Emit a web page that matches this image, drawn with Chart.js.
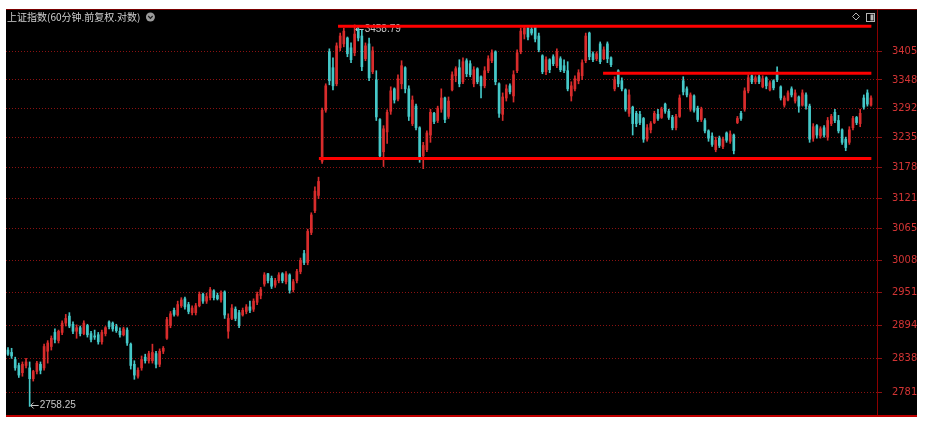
<!DOCTYPE html>
<html lang="zh-CN">
<head>
<meta charset="utf-8">
<title>上证指数 60分钟</title>
<script src="https://cdn.jsdelivr.net/npm/chart.js@4.4.1/dist/chart.umd.min.js"></script>
<style>
  html, body { margin: 0; padding: 0; background: #fff; }
  #wrap { width: 925px; height: 422px; }
</style>
</head>
<body>
<div id="wrap"><canvas id="kline" width="925" height="422"></canvas></div>
<script>
/* ============================================
   上证指数 60分钟 K线 (前复权 / 对数坐标)
   candles = floating bars, levels = line datasets
   ============================================ */

const opens = [
  2852,2848,2836,2826,2814,2826,2822,2804,2816,2828,
  2822,2850,2858,2882,2868,2882,2898,2910,2896,2884,
  2890,2880,2894,2880,2876,2878,2866,2880,2900,2898,
  2892,2884,2878,2886,2862,2828,2808,2822,2840,2834,
  2834,2846,2828,2850,2872,2894,2920,2912,2928,2940,
  2930,2916,2916,2928,2948,2936,2942,2954,2946,2938,
  2952,2884,2906,2922,2916,2912,2918,2926,2922,2934,
  2946,2966,2984,2976,2964,2972,2984,2970,2982,2956,
  2972,2988,3020,3004,3058,3098,3126,3190,3288,3404,
  3372,3340,3412,3420,3432,3412,3402,3450,3436,3390,
  3420,3364,3348,3270,3208,3246,3286,3330,3310,3340,
  3372,3330,3262,3296,3254,3200,3212,3240,3282,3268,
  3290,3312,3276,3328,3356,3372,3344,3386,3380,3340,
  3370,3354,3336,3366,3386,3404,3340,3280,3312,3336,
  3316,3366,3404,3440,3452,3450,3454,3436,3396,3364,
  3388,3394,3376,3390,3376,3366,3316,3330,3346,3356,
  3386,3442,3400,3390,3420,3390,3420,3392,3330,3366,
  3346,3328,3282,3294,3282,3280,3272,3232,3250,3264,
  3280,3274,3300,3286,3274,3254,3276,3346,3330,3290,
  3316,3292,3270,3268,3248,3238,3212,3234,3218,3244,
  3228,3240,3264,3282,3290,3326,3356,3344,3354,3334,
  3352,3328,3346,3364,3334,3298,3308,3330,3306,3314,
  3298,3318,3296,3234,3258,3238,3254,3236,3262,3284,
  3268,3250,3232,3226,3254,3274,3262,3312,3322,3298
];
const highs = [
  2856,2855,2840,2830,2832,2838,2832,2818,2833,2832,
  2862,2868,2876,2888,2886,2902,2913,2916,2900,2895,
  2893,2902,2896,2884,2886,2882,2886,2892,2902,2900,
  2896,2890,2891,2890,2864,2834,2822,2842,2845,2850,
  2862,2850,2854,2858,2908,2918,2924,2936,2942,2943,
  2934,2928,2932,2952,2950,2950,2960,2956,2950,2954,
  2954,2914,2930,2926,2920,2924,2930,2936,2940,2952,
  2960,2986,2985,2980,2976,2986,2986,2988,2984,2974,
  2992,3012,3026,3064,3094,3142,3160,3292,3340,3410,
  3392,3422,3442,3452,3434,3422,3458.79,3455,3448,3422,
  3432,3414,3366,3272,3258,3289,3334,3332,3358,3386,
  3374,3336,3316,3300,3256,3226,3248,3290,3284,3296,
  3330,3314,3314,3364,3374,3388,3392,3390,3386,3374,
  3372,3356,3374,3396,3408,3406,3342,3322,3338,3340,
  3366,3408,3452,3456,3458,3456,3456,3442,3398,3394,
  3390,3398,3410,3394,3388,3384,3344,3356,3368,3388,
  3442,3444,3404,3404,3424,3414,3424,3394,3354,3368,
  3352,3330,3328,3296,3286,3286,3274,3260,3266,3286,
  3290,3294,3302,3290,3278,3280,3318,3354,3334,3322,
  3318,3296,3294,3272,3250,3244,3236,3238,3236,3246,
  3248,3242,3276,3286,3332,3358,3358,3356,3358,3356,
  3354,3346,3348,3374,3336,3316,3326,3334,3328,3316,
  3328,3322,3300,3262,3260,3256,3258,3274,3280,3290,
  3278,3252,3236,3256,3276,3276,3290,3318,3328,3316
];
const lows = [
  2843,2838,2818,2806,2808,2822,2758.25,2800,2812,2812,
  2818,2830,2852,2864,2864,2878,2893,2890,2880,2872,
  2876,2878,2874,2866,2870,2862,2862,2876,2888,2884,
  2882,2874,2876,2860,2820,2803,2805,2818,2830,2830,
  2830,2822,2824,2846,2870,2890,2910,2910,2925,2922,
  2914,2912,2912,2926,2932,2932,2938,2938,2938,2934,
  2906,2872,2904,2902,2890,2910,2914,2916,2918,2930,
  2940,2962,2968,2958,2960,2968,2968,2966,2950,2952,
  2968,2984,3000,3000,3054,3094,3120,3186,3284,3338,
  3328,3336,3406,3414,3394,3382,3396,3426,3366,3386,
  3346,3360,3268,3196,3180,3224,3280,3302,3306,3330,
  3322,3268,3258,3250,3188,3176,3208,3226,3262,3264,
  3284,3264,3272,3326,3344,3334,3340,3354,3354,3334,
  3340,3312,3332,3362,3382,3338,3274,3268,3306,3320,
  3304,3362,3400,3430,3428,3438,3424,3404,3360,3358,
  3362,3376,3372,3364,3362,3326,3306,3326,3340,3348,
  3382,3388,3384,3386,3380,3388,3382,3374,3326,3334,
  3326,3286,3276,3240,3256,3260,3226,3228,3244,3262,
  3268,3272,3282,3270,3250,3250,3274,3318,3314,3286,
  3284,3266,3266,3244,3228,3218,3208,3216,3214,3226,
  3224,3204,3262,3268,3286,3322,3340,3340,3340,3332,
  3330,3326,3328,3344,3308,3294,3306,3314,3302,3284,
  3296,3290,3226,3228,3234,3234,3236,3230,3258,3264,
  3244,3222,3210,3222,3250,3260,3256,3290,3296,3296
];
const closes = [
  2845,2842,2822,2810,2828,2832,2804,2816,2830,2818,
  2858,2864,2872,2870,2884,2898,2906,2893,2884,2890,
  2880,2898,2878,2870,2874,2866,2882,2890,2892,2888,
  2885,2878,2888,2864,2826,2810,2818,2836,2834,2846,
  2848,2828,2850,2855,2904,2914,2913,2930,2938,2926,
  2918,2924,2928,2948,2936,2944,2956,2942,2940,2950,
  2912,2906,2924,2906,2894,2920,2926,2920,2936,2948,
  2956,2982,2972,2962,2972,2982,2972,2984,2955,2970,
  2988,3008,3004,3060,3090,3134,3152,3288,3336,3346,
  3336,3416,3436,3446,3400,3388,3440,3432,3374,3416,
  3352,3406,3275,3200,3252,3284,3326,3308,3350,3376,
  3330,3276,3308,3254,3194,3220,3244,3284,3266,3292,
  3312,3270,3306,3358,3370,3340,3384,3360,3358,3368,
  3344,3336,3366,3390,3402,3344,3282,3314,3330,3324,
  3358,3402,3446,3452,3434,3442,3430,3408,3364,3388,
  3368,3380,3404,3368,3366,3330,3336,3350,3362,3382,
  3436,3394,3388,3400,3384,3408,3390,3378,3348,3340,
  3330,3290,3318,3262,3262,3264,3232,3254,3262,3282,
  3272,3290,3286,3274,3254,3276,3312,3324,3318,3318,
  3288,3270,3290,3248,3234,3222,3230,3220,3232,3230,
  3242,3210,3272,3272,3326,3352,3344,3352,3344,3350,
  3336,3342,3332,3348,3312,3312,3322,3318,3322,3296,
  3322,3296,3232,3256,3240,3252,3240,3268,3276,3268,
  3248,3226,3216,3250,3272,3264,3282,3294,3300,3312
];

// right axis labels
const yTicks = [2781, 2838, 2894, 2951, 3008, 3065, 3121, 3178, 3235, 3292, 3348, 3405];
const yMin = 2742.6;
const yMax = 3491.5;
const xMin = -0.55;
const xMax = 240.66;

// hand drawn horizontal levels (price, first bar index, last bar index)
const levelValues = [3456, 3361, 3195];
const levelStarts = [91.4, 164.8, 86.1];
const levelEnd = 239.1;

const TITLE = '上证指数(60分钟.前复权.对数)';
const UP = '#d82c2c';
const DOWN = '#45c8c8';

const KLINE = {
  chart: null,

  init() {
    const idx = opens.map((_, i) => i);
    const colors = idx.map(i => closes[i] >= opens[i] ? UP : DOWN);

    const levels = levelValues.map((v, k) => ({
      type: 'line',
      data: [{ x: levelStarts[k], y: v }, { x: levelEnd, y: v }],
      borderColor: '#ff0000',
      borderWidth: 3,
      borderCapStyle: 'butt',
      pointRadius: 0,
      order: 0,
    }));

    this.chart = new Chart(document.getElementById('kline'), {
      type: 'bar',
      data: {
        datasets: [
          ...levels,
          {
            data: idx.map(i => ({ x: i, y: [opens[i], closes[i]] })),
            backgroundColor: colors,
            barThickness: 2,
            minBarLength: 1,
            grouped: false,
            order: 1,
          },
          {
            data: idx.map(i => ({ x: i, y: [lows[i], highs[i]] })),
            backgroundColor: colors,
            barThickness: 1,
            grouped: false,
            order: 2,
          }
        ]
      },
      options: {
        responsive: false,
        animation: false,
        devicePixelRatio: 1,
        events: [],
        layout: { padding: { left: 6, right: 8, top: 9, bottom: 6 } },
        plugins: { legend: { display: false }, tooltip: { enabled: false } },
        scales: {
          x: { type: 'linear', min: xMin, max: xMax, offset: false, display: false },
          y: {
            type: 'logarithmic',
            position: 'right',
            min: yMin,
            max: yMax,
            bounds: 'data',
            afterBuildTicks: axis => { axis.ticks = yTicks.map(v => ({ value: v })); },
            afterFit: axis => {
              axis.width = 40;
              axis.paddingTop = 0;
              axis.paddingBottom = 0;
            },
            grid: {
              color: '#8a1212',
              lineWidth: 1,
              drawTicks: true,
              tickLength: 5,
              tickColor: '#8a1212',
              tickWidth: 1,
              tickBorderDash: [],
            },
            border: { display: false, dash: [1, 2] },
            ticks: {
              color: '#d23434',
              padding: 10,
              autoSkip: false,
              font: { family: "'Liberation Sans Narrow', 'DejaVu Sans Condensed', sans-serif", size: 11 },
              callback: v => String(v),
            }
          }
        }
      },
      plugins: [this.framePlugin]
    });
  },

  framePlugin: {
    id: 'frame',
    beforeDraw(chart) {
      const { ctx, chartArea: a, scales: { y } } = chart;
      ctx.save();
      ctx.fillStyle = '#ffffff';
      ctx.fillRect(0, 0, chart.width, chart.height);
      ctx.fillStyle = '#000000';
      ctx.fillRect(a.left, a.top, y.right - a.left, a.bottom - a.top);
      ctx.restore();
    },
    beforeDatasetsDraw(chart) {
      // max / min price markers
      const { ctx, scales: { x, y } } = chart;
      const hi = Math.max(...highs), lo = Math.min(...lows);
      const hiIdx = highs.indexOf(hi), loIdx = lows.indexOf(lo);
      ctx.save();
      ctx.font = "10px 'Liberation Sans', sans-serif";
      ctx.fillStyle = '#c8c8c8';
      ctx.strokeStyle = '#c8c8c8';
      ctx.lineWidth = 1;
      ctx.textBaseline = 'middle';
      const mark = (px, py, text) => {
        const yy = Math.round(py) + 0.5;
        ctx.beginPath();
        ctx.moveTo(px + 1, yy); ctx.lineTo(px + 9, yy);
        ctx.moveTo(px + 4, yy - 3); ctx.lineTo(px + 1, yy); ctx.lineTo(px + 4, yy + 3);
        ctx.stroke();
        ctx.fillText(text, px + 10, yy);
      };
      mark(x.getPixelForValue(hiIdx), y.getPixelForValue(hi) + 4, hi.toFixed(2));
      mark(x.getPixelForValue(loIdx), y.getPixelForValue(lo) - 1, lo.toFixed(2));
      ctx.restore();
    },
    afterDraw(chart) {
      const { ctx, chartArea: a, scales: { y } } = chart;
      ctx.save();
      // frame lines
      ctx.fillStyle = '#7a0000';
      ctx.fillRect(a.left, a.top, y.right - a.left, 1);
      ctx.fillStyle = '#8b0000';
      ctx.fillRect(Math.round(y.left), a.top, 1, a.bottom - a.top);
      ctx.fillStyle = '#c00000';
      ctx.fillRect(a.left, a.bottom - 1, y.right - a.left, 2);

      // title
      ctx.font = "10px 'Noto Sans CJK SC', sans-serif";
      ctx.fillStyle = '#d0d0d0';
      ctx.textBaseline = 'middle';
      ctx.fillText(TITLE, a.left + 1, a.top + 8.5);
      const tw = ctx.measureText(TITLE).width;
      const cx = a.left + 1 + tw + 10, cy = a.top + 8;
      ctx.fillStyle = '#9c9c9c';
      ctx.beginPath(); ctx.arc(cx, cy, 4.5, 0, Math.PI * 2); ctx.fill();
      ctx.strokeStyle = '#1e1e1e';
      ctx.lineWidth = 1.2;
      ctx.beginPath(); ctx.moveTo(cx - 2.2, cy - 1); ctx.lineTo(cx, cy + 1.3); ctx.lineTo(cx + 2.2, cy - 1); ctx.stroke();

      // top right icons
      ctx.strokeStyle = '#b4b4b4';
      ctx.lineWidth = 1;
      const dx = y.left - 21, dy = a.top + 7.5;
      ctx.beginPath();
      ctx.moveTo(dx, dy - 3.5); ctx.lineTo(dx + 3.5, dy); ctx.lineTo(dx, dy + 3.5); ctx.lineTo(dx - 3.5, dy); ctx.closePath();
      ctx.stroke();
      const sx = Math.round(y.left - 11) + 0.5, sy = a.top + 4.5;
      ctx.strokeRect(sx, sy, 8, 8);
      ctx.fillStyle = '#b4b4b4';
      ctx.fillRect(sx + 4, sy + 1, 3, 6);
      ctx.restore();
    }
  }
};

KLINE.init();
window.KLINE = KLINE;
</script>
</body>
</html>
